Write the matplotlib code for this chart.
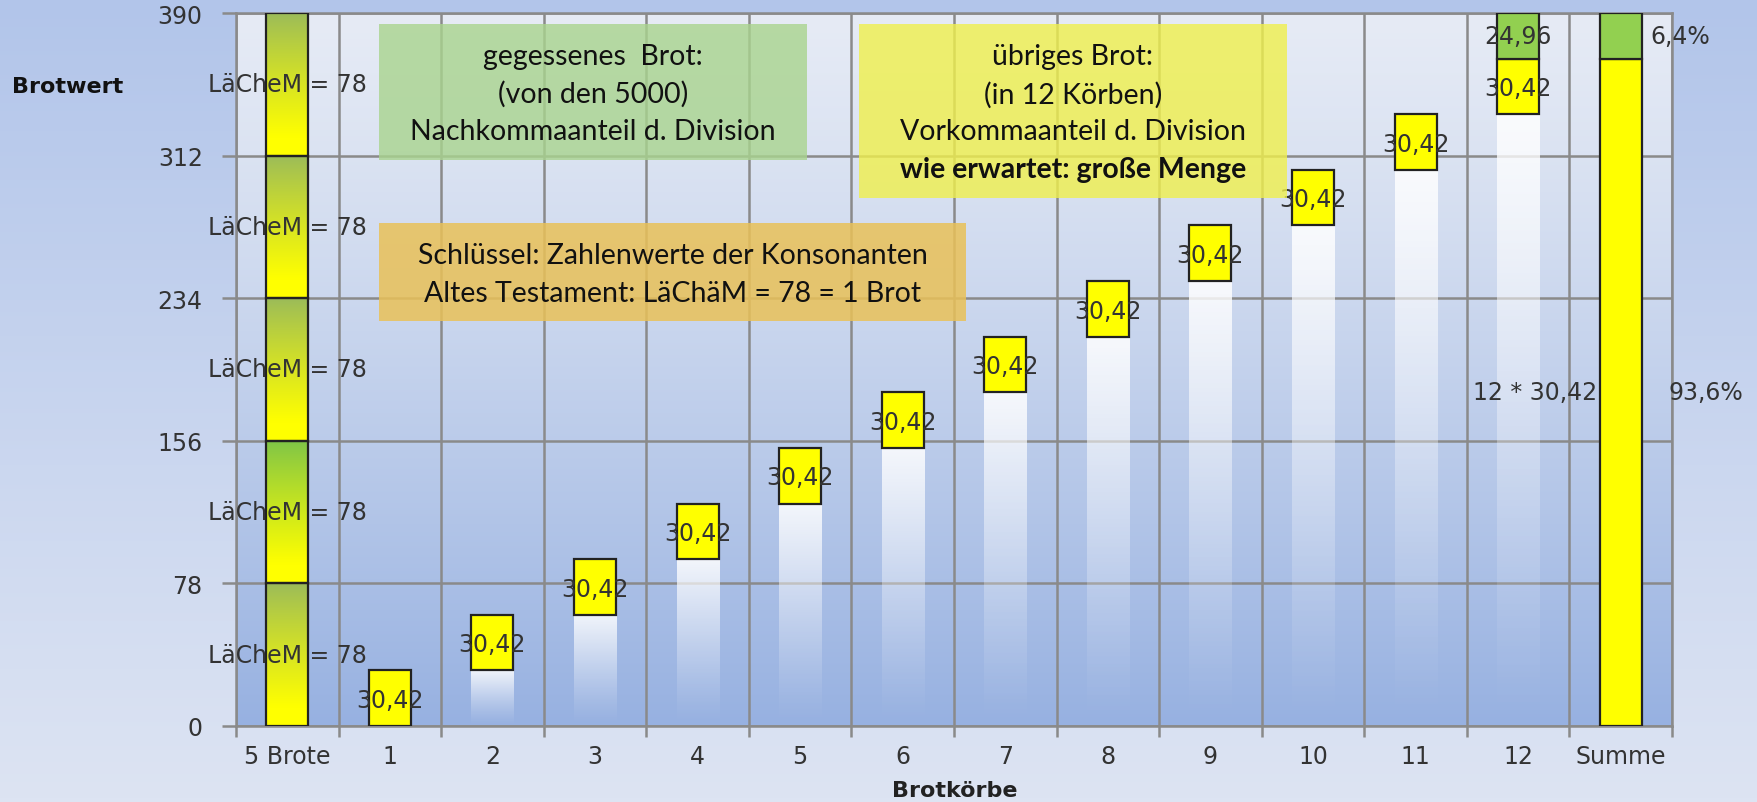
import numpy as np
import matplotlib.pyplot as plt
from matplotlib.colors import to_rgb
from matplotlib.patches import Rectangle

# Daten
kategorien = ["5 Brote", "1", "2", "3", "4", "5", "6", "7", "8", "9", "10", "11", "12", "Summe"]
brote = [78, 78, 78, 78, 78]
brote_text = "LäCheM = 78"
koerbe = [30.42, 30.42, 30.42, 30.42, 30.42, 30.42, 30.42, 30.42, 30.42, 30.42, 30.42, 30.42]
rest = 24.96
summe_gelb = 365.04
summe_gruen = 24.96
summe_gelb_text = "12 * 30,42"
prozent_gelb = "93,6%"
prozent_gruen = "6,4%"
y_ticks = [0, 78, 156, 234, 312, 390]

W, H = 1758, 803
fig = plt.figure(figsize=(W / 100, H / 100), dpi=100)


def fx(px):
    return px / W


def fy(py):
    return 1 - py / H


# Hintergrund der Figur
bg = fig.add_axes([0, 0, 1, 1], zorder=-10)
top_c = np.array(to_rgb("#b2c5ea"))
bot_c = np.array(to_rgb("#dde4f3"))
t = np.linspace(0, 1, 200)[:, None, None]
bg.imshow(top_c * (1 - t) + bot_c * t, aspect="auto", extent=[0, 1, 0, 1])
bg.axis("off")

# Diagrammfläche
ax = fig.add_axes([fx(236), fy(727), fx(1672) - fx(236), fy(14) - fy(727)])
ax.set_facecolor("none")
pa_top = np.array(to_rgb("#e6ebf5"))
pa_bot = np.array(to_rgb("#97b1e1"))
t = np.linspace(0, 1, 300)[:, None, None] ** 1.2
ax.imshow(pa_top * (1 - t) + pa_bot * t, aspect="auto", extent=[-0.5, 13.5, 0, 390], zorder=0)

grid_c = "#8a8a8a"
for y in y_ticks:
    ax.axhline(y, color=grid_c, lw=1.8, zorder=1)
for x in np.arange(-0.5, 14, 1):
    ax.axvline(x, color=grid_c, lw=1.8, zorder=1)

bw = 0.41
gelb = "#ffff00"
gruen = "#92d050"
kante = "#222222"
txt_c = "#333333"
fs = 17

# 5 Brote: gestapelte Segmente mit Verlauf
green_tops = ["#9bbb59", "#7ec448", "#9bbb59", "#9bbb59", "#9bbb59"]
unten = 0
for i, h in enumerate(brote):
    g = np.array(to_rgb(green_tops[i]))
    yl = np.array(to_rgb(gelb))
    s = np.clip(np.linspace(0, 1, 100) * 1.15, 0, 1)[:, None, None] ** 0.9
    ax.imshow(g * (1 - s) + yl * s, aspect="auto",
              extent=[-bw / 2, bw / 2, unten, unten + h], zorder=3)
    ax.add_patch(Rectangle((-bw / 2, unten), bw, h, fill=False, ec=kante, lw=1.6, zorder=4))
    ax.text(0, unten + h / 2, brote_text, ha="center", va="center",
            fontsize=fs, color=txt_c, zorder=5)
    unten += h

# Körbe 1..12 (Wasserfall)
xk = np.arange(1, 13)
bottoms = np.concatenate([[0], np.cumsum(koerbe)[:-1]])
for x, b in zip(xk, bottoms):
    if b > 0:
        a = 0.85 * np.linspace(1, 0, 100) ** 1.3
        img = np.ones((100, 1, 4))
        img[:, 0, 3] = a
        ax.imshow(img, aspect="auto", extent=[x - bw / 2, x + bw / 2, 0, b], zorder=2)
ax.bar(xk, koerbe, bottom=bottoms, width=bw, color=gelb, edgecolor=kante, lw=1.6, zorder=3)
for x, b, v in zip(xk, bottoms, koerbe):
    ax.text(x, b + v * 0.47, f"{v:.2f}".replace(".", ","), ha="center", va="center",
            fontsize=fs, color=txt_c, zorder=5)

# Rest auf Korb 12
rest_bottom = sum(koerbe)
ax.bar(12, rest, bottom=rest_bottom, width=bw, color=gruen, edgecolor=kante, lw=1.6, zorder=3)
ax.text(12, rest_bottom + rest / 2, f"{rest:.2f}".replace(".", ","), ha="center", va="center",
        fontsize=fs, color=txt_c, zorder=5)

# Summe
ax.bar(13, summe_gelb, width=bw, color=gelb, edgecolor=kante, lw=1.6, zorder=3)
ax.bar(13, summe_gruen, bottom=summe_gelb, width=bw, color=gruen, edgecolor=kante, lw=1.6, zorder=3)
ax.annotate(summe_gelb_text, (13 - bw / 2, summe_gelb / 2), xytext=(-2, 0),
            textcoords="offset points", ha="right", va="center", fontsize=fs, color=txt_c, zorder=5)
ax.annotate(prozent_gelb, (13 + bw / 2, summe_gelb / 2), xytext=(19, 0),
            textcoords="offset points", ha="left", va="center", fontsize=fs, color=txt_c, zorder=5)
ax.annotate(prozent_gruen, (13 + bw / 2, summe_gelb + summe_gruen / 2), xytext=(6, 0),
            textcoords="offset points", ha="left", va="center", fontsize=fs, color=txt_c, zorder=5)

ax.set_xlim(-0.5, 13.5)
ax.set_ylim(0, 390)
ax.set_yticks(y_ticks)
ax.set_yticklabels([str(v) for v in y_ticks])
ax.set_xticks(range(len(kategorien)))
ax.set_xticklabels(kategorien)
ax.set_xticks(np.arange(-0.5, 14, 1), minor=True)
ax.tick_params(axis="y", length=10, color=grid_c, width=1.8, pad=14, labelsize=fs, labelcolor=txt_c)
ax.tick_params(axis="x", which="major", length=0, pad=13, labelsize=fs, labelcolor=txt_c)
ax.tick_params(axis="x", which="minor", length=8, color=grid_c, width=1.8)
for s in ax.spines.values():
    s.set_color(grid_c)
    s.set_linewidth(1.8)

fig.text(fx(12), fy(87), "Brotwert", ha="left", va="center", fontsize=16, fontweight="bold", color="#111111")
fig.text(fx(955), fy(791), "Brotkörbe", ha="center", va="center", fontsize=16, fontweight="bold", color="#222222")


# Textfelder
def box(x0, y0, x1, y1, color, alpha, zeilen, zeilen_y):
    fig.patches.append(Rectangle((fx(x0), fy(y1)), fx(x1) - fx(x0), fy(y0) - fy(y1),
                                 transform=fig.transFigure, facecolor=color, alpha=alpha,
                                 edgecolor="none", zorder=6))
    for (txt, bold), yy in zip(zeilen, zeilen_y):
        fig.text(fx((x0 + x1) / 2), fy(yy), txt, ha="center", va="center", fontsize=20.5,
                 family="Lato", fontweight="bold" if bold else "normal", color="#111111", zorder=7)


box(379, 25, 807, 161, "#a9d48e", 0.8,
    [("gegessenes  Brot:", False), ("(von den 5000)", False), ("Nachkommaanteil d. Division", False)],
    [57, 94, 132])
box(859, 25, 1287, 199, "#f0f04c", 0.8,
    [("übriges Brot:", False), ("(in 12 Körben)", False), ("Vorkommaanteil d. Division", False),
     ("wie erwartet: große Menge", True)],
    [57, 95, 132, 170])
box(379, 224, 966, 322, "#e9c158", 0.85,
    [("Schlüssel: Zahlenwerte der Konsonanten", False), ("Altes Testament: LäChäM = 78 = 1 Brot", False)],
    [256, 294])

fig.savefig("out.png", dpi=100)
